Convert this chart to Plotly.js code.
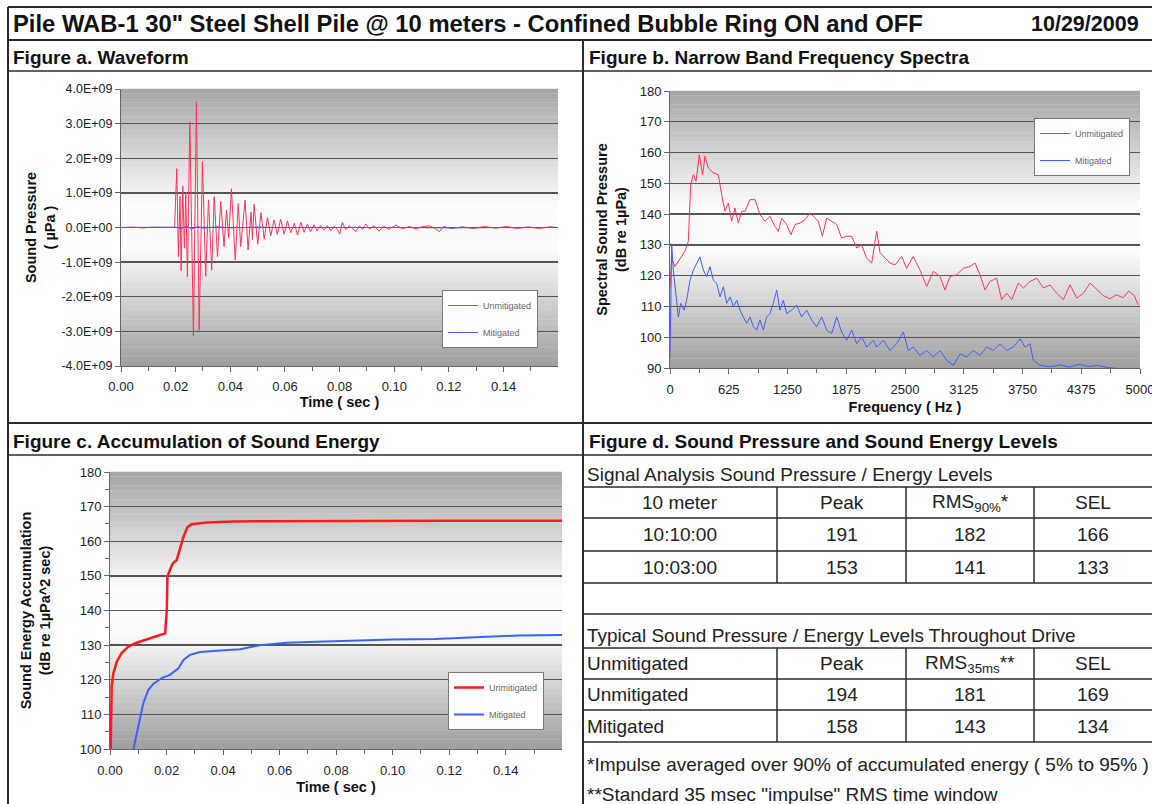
<!DOCTYPE html>
<html><head><meta charset="utf-8">
<script src="https://cdn.plot.ly/plotly-3.0.1.min.js"></script>
<style>html,body{margin:0;padding:0;background:#fff;}#chart{width:1152px;height:804px;}</style>
</head><body><div id="chart"></div>
<script>
// ---------- Figure a. Waveform ----------
const waveTime = [0,0.004,0.008,0.012,0.016,0.0196,0.0204,0.0210,0.0216,0.0220,0.0226,0.0232,0.0237,0.0243,0.0252,0.0265,0.0276,0.0286,0.0298,0.0310,0.0320,0.0332,0.0341,0.0353,0.0365,0.0377,0.0386,0.0394,0.0404,0.0418,0.0429,0.0438,0.0454,0.0465,0.0476,0.0481,0.0487,0.0500,0.0512,0.0524,0.0536,0.0548,0.0560,0.0572,0.0584,0.0597,0.0609,0.0621,0.0634,0.0646,0.0658,0.0670,0.0682,0.0694,0.0706,0.0718,0.0730,0.0742,0.0755,0.0768,0.0780,0.0792,0.0800,0.0810,0.0822,0.0835,0.0848,0.0860,0.0872,0.0885,0.0895,0.0910,0.0925,0.0945,0.0960,0.0980,0.1006,0.1030,0.1055,0.1080,0.1100,0.1130,0.1150,0.1165,0.1180,0.1210,0.1250,0.1290,0.1330,0.1370,0.1410,0.1450,0.1490,0.1530,0.1570,0.1600];
const waveUnmitigated = [0,1e7,-1e7,1e7,0,0,1.70e9,-0.84e9,0.90e9,-1.25e9,1.20e9,-0.60e9,1.00e9,-1.42e9,3.05e9,-3.14e9,3.63e9,-2.97e9,1.90e9,-1.41e9,0.79e9,-1.23e9,0.89e9,-0.84e9,0.75e9,-0.55e9,0.50e9,-0.30e9,1.12e9,-0.94e9,0.69e9,-0.55e9,0.79e9,-0.65e9,0.45e9,-0.35e9,0.67e9,-0.48e9,0.43e9,-0.34e9,0.29e9,-0.24e9,0.22e9,-0.20e9,0.24e9,-0.19e9,0.19e9,-0.15e9,0.12e9,-0.22e9,0.15e9,-0.14e9,0.10e9,-0.12e9,0.08e9,-0.10e9,0.06e9,-0.08e9,0.05e9,-0.09e9,0.04e9,-0.05e9,-0.19e9,0.15e9,-0.06e9,0.05e9,-0.04e9,-0.12e9,0.05e9,-0.05e9,0.10e9,-0.04e9,0.05e9,-0.10e9,0.04e9,-0.05e9,0.07e9,-0.04e9,0.03e9,-0.04e9,0.02e9,0.05e9,-0.03e9,-0.12e9,0.03e9,-0.03e9,0.02e9,-0.03e9,0.03e9,-0.02e9,0.03e9,-0.03e9,0.02e9,-0.03e9,0.02e9,0];
const waveTimeMit = [0,0.010,0.020,0.022,0.024,0.026,0.028,0.030,0.035,0.040,0.050,0.060,0.080,0.100,0.120,0.140,0.160];
const waveMitigated = [0,0,1e7,-3e7,4e7,-4e7,3e7,-2e7,2e7,-1e7,1e7,0,1e7,0,-1e7,0,0];
const waveTickVals = [-4e9,-3e9,-2e9,-1e9,0,1e9,2e9,3e9,4e9];
const waveTickText = ["-4.0E+09","-3.0E+09","-2.0E+09","-1.0E+09","0.0E+00","1.0E+09","2.0E+09","3.0E+09","4.0E+09"];

// ---------- Figure b. Narrow band spectra ----------
const freqUnmit = [0,18,53,106,160,195,220,248,277,312,347,372,408,461,514,550,585,621,656,691,727,762,798,851,904,957,1010,1064,1117,1152,1188,1241,1287,1330,1383,1436,1490,1525,1578,1621,1667,1720,1773,1826,1879,1933,1986,2039,2092,2146,2199,2234,2287,2340,2394,2464,2517,2588,2659,2731,2802,2873,2925,2979,3050,3121,3192,3245,3298,3351,3404,3475,3528,3582,3635,3706,3759,3830,3901,3972,4043,4114,4185,4256,4327,4398,4469,4540,4610,4680,4750,4820,4880,4940,4980];
const specUnmit = [116,125.7,123,125.7,128,131.2,149.6,152.8,150.7,159.3,152.8,158.8,155,153.4,152.8,146.3,140.9,143.6,137.7,142,137.1,140.9,140.9,144.7,144.7,139.8,137.7,139.3,136,134.4,138.7,136.6,133.3,136.6,137.1,138.2,140.4,139.3,137.7,132.8,138.7,137.7,136.6,132.2,132.8,132.8,129,130,125.7,124.1,134.5,127.5,125.8,124.1,123.5,126.2,122.4,126.2,121.9,116.5,121.4,119.7,115.4,119.7,120.3,122.4,123,124.1,120.3,115.4,118.1,119.2,112.2,114.3,112.2,117.6,116,118.1,119.2,116,117,114.3,112.2,117,112.7,114.3,117.6,115.5,113.5,112.5,113.8,112.8,115,113.5,110.5];
const freqMit = [0,18,35,64,89,114,149,177,213,248,284,319,355,390,426,461,497,532,568,603,639,674,710,745,780,816,851,887,922,957,993,1028,1064,1099,1135,1170,1206,1241,1294,1347,1400,1454,1507,1560,1614,1667,1720,1773,1826,1879,1933,1986,2039,2092,2163,2199,2270,2340,2411,2482,2535,2588,2659,2731,2802,2873,2944,3015,3086,3157,3227,3298,3369,3440,3511,3582,3653,3724,3777,3830,3865,3937,4043,4150,4250,4350,4450,4550,4650,4750,4850,4950,5000];
const specMit = [93.2,130.4,121.8,113.1,106.6,111,108.8,112,118.5,121.8,124,126.1,121.8,119.7,122.9,118.5,117.5,113.1,116.4,111,113.1,109.9,112,108.8,106.6,104.5,106.6,103.4,102.3,105.6,102.3,106.6,107.7,111,115.3,108.8,112,107.7,108.8,110.4,106.6,108.8,105.6,103.4,106.6,102.3,101.2,106.6,101.7,99,102.3,97.9,100.1,96.8,99,96.8,99,95.7,97.9,101.7,95.7,96.8,94.1,95.7,93.6,95.7,92.5,90.9,94.6,93.6,95.7,94.1,96.8,95.7,97.9,95.7,96.8,99.5,96.8,97.9,92.5,90.9,90.4,91,90.3,91.2,90.5,90.8,90.2,89.8,89.5,89.6,89.2];

// ---------- Figure c. Accumulation of sound energy ----------
const accTimeUnmit = [0.0002,0.0003,0.00035,0.0006,0.0012,0.0024,0.0041,0.0065,0.0094,0.013,0.0165,0.0195,0.0201,0.0203,0.0212,0.0222,0.0236,0.0248,0.026,0.0274,0.0289,0.0342,0.0437,0.0555,0.08,0.10,0.12,0.14,0.16];
const accUnmit = [98,105,110.4,118,121.9,125.2,127.7,129.6,130.7,131.7,132.6,133.4,140.1,149.7,151.7,153.6,154.6,157.9,161.3,164.1,164.9,165.4,165.7,165.8,165.9,165.9,165.9,165.9,165.9];
const accTimeMit = [0.0079,0.0083,0.01,0.0118,0.0136,0.0153,0.0183,0.0212,0.0242,0.026,0.0283,0.0319,0.0378,0.046,0.0531,0.0625,0.0732,0.085,0.10,0.115,0.125,0.135,0.145,0.16];
const accMit = [98,100,106.5,113.3,117.1,118.8,120.5,121.4,123.3,125.7,127.2,128,128.4,128.8,130,130.7,131,131.3,131.6,131.8,132.2,132.6,132.8,132.9];

// ---------- Figure d. Table ----------
const tableSignalTitle = "Signal Analysis Sound Pressure / Energy Levels";
const tableSignalHeader = ["10 meter","Peak","RMS<sub>90%</sub>*","SEL"];
const tableSignalRows = ["10:10:00","10:03:00"];
const tableSignalPeak = [191,153];
const tableSignalRms = [182,141];
const tableSignalSel = [166,133];
const tableTypicalTitle = "Typical Sound Pressure / Energy Levels Throughout Drive";
const tableTypicalHeader = ["Unmitigated","Peak","RMS<sub>35ms</sub>**","SEL"];
const tableTypicalRows = ["Unmitigated","Mitigated"];
const tableTypicalPeak = [194,158];
const tableTypicalRms = [181,143];
const tableTypicalSel = [169,134];
const footnotes = ["*Impulse averaged over 90% of accumulated energy ( 5% to 95% )","**Standard 35 msec \"impulse\" RMS time window"];

const mainTitle = "Pile WAB-1 30\" Steel Shell Pile @ 10 meters - Confined Bubble Ring ON and OFF";
const mainDate = "10/29/2009";
const panelTitles = ["Figure a. Waveform","Figure b. Narrow Band Frequency Spectra","Figure c. Accumulation of Sound Energy","Figure d. Sound Pressure and Sound Energy Levels"];
const seriesNames = ["Unmitigated","Mitigated"];

// ---------- layout helpers ----------
const W = 1152, H = 804;
const px = x => x / W;
const py = y => 1 - y / H;
const FONT = 'Arial, "Liberation Sans", sans-serif';

const RED = '#ff3358', BLUE = '#3f5cff';
const traces = [
  {x: waveTime, y: waveUnmitigated, type:'scatter', mode:'lines', name: seriesNames[0], line:{color:RED, width:1}, xaxis:'x', yaxis:'y', legend:'legend', legendgroup:'a1'},
  {x: waveTimeMit, y: waveMitigated, type:'scatter', mode:'lines', name: seriesNames[1], line:{color:BLUE, width:1}, xaxis:'x', yaxis:'y', legend:'legend', legendgroup:'a2'},
  {x: freqUnmit, y: specUnmit, type:'scatter', mode:'lines', name: seriesNames[0], line:{color:RED, width:1}, xaxis:'x2', yaxis:'y2', legend:'legend2', legendgroup:'b1'},
  {x: freqMit, y: specMit, type:'scatter', mode:'lines', name: seriesNames[1], line:{color:BLUE, width:1}, xaxis:'x2', yaxis:'y2', legend:'legend2', legendgroup:'b2'},
  {x: accTimeUnmit, y: accUnmit, type:'scatter', mode:'lines', name: seriesNames[0], line:{color:'#ff1a1a', width:2.5}, xaxis:'x3', yaxis:'y3', legend:'legend3', legendgroup:'c1'},
  {x: accTimeMit, y: accMit, type:'scatter', mode:'lines', name: seriesNames[1], line:{color:'#3a62ff', width:2}, xaxis:'x3', yaxis:'y3', legend:'legend3', legendgroup:'c2'}
];

const tickFont = {family: FONT, size: 13, color: '#222'};
const titleFont = {family: FONT, size: 14.5, color: '#111', weight: 'bold'};
const axisCommon = {showline:true, linecolor:'#666', linewidth:1, ticks:'outside', ticklen:5, tickcolor:'#666', tickfont: tickFont, automargin:false, fixedrange:true, ticklabeloverflow:'allow'};
const gridCommon = {showgrid:true, gridcolor:'#555', gridwidth:1.3, zeroline:false};

const legendCommon = {bgcolor:'#ffffff', bordercolor:'#777', borderwidth:1, font:{family:FONT, size:9, color:'#666'}, xanchor:'left', yanchor:'top', tracegroupgap:8, itemwidth:30, traceorder:'grouped'};

const layout = {
  width: W, height: H, autosize:false,
  margin:{l:0,r:0,t:0,b:0,pad:0},
  paper_bgcolor:'#ffffff', plot_bgcolor:'rgba(0,0,0,0)',
  font:{family:FONT},
  showlegend:true,
  xaxis: Object.assign({}, axisCommon, {domain:[px(121),px(558)], range:[0,0.1599], dtick:0.02, tickformat:'.2f', anchor:'y', showgrid:false, zeroline:false, ticklabelstandoff:3,
    minor:{dtick:0.01, ticks:'outside', ticklen:4, tickcolor:'#666'},
    title:{text:'Time ( sec )', font:titleFont, standoff:4}}),
  yaxis: Object.assign({}, axisCommon, gridCommon, {domain:[py(366),py(89)], range:[-4e9,4e9], tickvals:waveTickVals, ticktext:waveTickText, anchor:'x',
    tickfont:{family:FONT, size:12.5, color:'#222'},
    title:{text:'Sound Pressure<br>( µPa )', font:titleFont, standoff:2}}),
  xaxis2: Object.assign({}, axisCommon, {domain:[px(670),px(1140)], range:[0,5000], tick0:0, dtick:625, anchor:'y2', showgrid:false, zeroline:false, ticklabelstandoff:4,
    minor:{dtick:312.5, ticks:'outside', ticklen:4, tickcolor:'#666'},
    title:{text:'Frequency ( Hz )', font:titleFont, standoff:6}}),
  yaxis2: Object.assign({}, axisCommon, gridCommon, {domain:[py(368),py(91)], range:[90,180], dtick:10, anchor:'x2',
    title:{text:'Spectral Sound Pressure<br>(dB re 1µPa)', font:titleFont, standoff:9}}),
  xaxis3: Object.assign({}, axisCommon, {domain:[px(110),px(562)], range:[0,0.1599], dtick:0.02, tickformat:'.2f', anchor:'y3', showgrid:false, zeroline:false, ticklabelstandoff:4,
    minor:{dtick:0.01, ticks:'outside', ticklen:4, tickcolor:'#666'},
    title:{text:'Time ( sec )', font:titleFont, standoff:5}}),
  yaxis3: Object.assign({}, axisCommon, gridCommon, {domain:[py(749),py(472)], range:[100,180], dtick:10, anchor:'x3',
    minor:{dtick:5, ticks:'outside', ticklen:4, tickcolor:'#666', showgrid:false},
    title:{text:'Sound Energy Accumulation<br>(dB re 1µPa^2 sec)', font:titleFont, standoff:25}}),
  legend: Object.assign({}, legendCommon, {x:px(442), y:py(290)}),
  legend2: Object.assign({}, legendCommon, {x:px(1034), y:py(118)}),
  legend3: Object.assign({}, legendCommon, {x:px(448), y:py(672)}),
  shapes: [], annotations: []
};

// gradient plot-area backgrounds (Excel-style centre gradient)
function grayAt(f){
  const edgeTop = 165, edgeBot = 158, mid = 252;
  let g;
  if (f < 0.42) g = edgeTop + (mid - edgeTop) * (f / 0.42);
  else if (f <= 0.58) g = mid;
  else g = mid - (mid - edgeBot) * ((f - 0.58) / 0.42);
  g = Math.round(g);
  return `rgb(${g},${g},${g})`;
}
['', '2', '3'].forEach(s => {
  const N = 60;
  for (let i = 0; i < N; i++) {
    layout.shapes.push({type:'rect', xref:'x'+s+' domain', yref:'y'+s+' domain', x0:0, x1:1,
      y0: 1 - (i+1)/N, y1: 1 - i/N + 0.001, line:{width:0}, fillcolor: grayAt((i+0.5)/N), layer:'below'});
  }
});

// frame lines
function hline(y, x0, x1, w){ layout.shapes.push({type:'line', xref:'paper', yref:'paper', x0:px(x0), x1:px(x1), y0:py(y), y1:py(y), line:{color:'#2a2a2a', width:w||1.5}}); }
function vline(x, y0, y1, w){ layout.shapes.push({type:'line', xref:'paper', yref:'paper', x0:px(x), x1:px(x), y0:py(y0), y1:py(y1), line:{color:'#2a2a2a', width:w||1.5}}); }
hline(7, 8, 1152, 2);
hline(40, 8, 1152, 2);
hline(71, 8, 1152, 1.5);
hline(423, 8, 1152, 2);
hline(455, 8, 1152, 1.5);
vline(8, 7, 804, 2);
vline(583, 40, 804, 2);

// table lines
const colEdges = [583, 777, 906, 1034, 1152];
const sigRowEdges = [487, 518, 551, 583];
const typRowEdges = [648, 679, 710, 742];
sigRowEdges.forEach(y => hline(y, 583, 1152, 1.5));
hline(614, 583, 1152, 1.5);
typRowEdges.forEach(y => hline(y, 583, 1152, 1.5));
[1,2,3].forEach(i => { vline(colEdges[i], sigRowEdges[0], sigRowEdges[3], 1.5); vline(colEdges[i], typRowEdges[0], typRowEdges[3], 1.5); });

// text annotations
function ann(text, x, y, xanchor, size, bold, color){
  layout.annotations.push({text:text, x:px(x), y:py(y), xref:'paper', yref:'paper', xanchor:xanchor, yanchor:'middle', showarrow:false,
    font:{family:FONT, size:size, color:color||'#111', weight: bold ? 'bold' : 'normal'}});
}
ann(mainTitle, 11, 24, 'left', 23.8, true);
ann(mainDate, 1141, 24, 'right', 21.5, true);
ann(panelTitles[0], 11, 58, 'left', 19, true);
ann(panelTitles[1], 587, 58, 'left', 19, true);
ann(panelTitles[2], 11, 441, 'left', 19, true);
ann(panelTitles[3], 587, 441, 'left', 19, true);

const TF = 19, TC = '#222';
const cellCenter = i => (colEdges[i] + colEdges[i+1]) / 2;
const rowMid = (edges, r) => (edges[r] + edges[r+1]) / 2;
ann(tableSignalTitle, 585, 474, 'left', TF, false, TC);
tableSignalHeader.forEach((t, i) => ann(t, cellCenter(i), rowMid(sigRowEdges, 0), 'center', TF, false, TC));
tableSignalRows.forEach((t, r) => {
  const y = rowMid(sigRowEdges, r+1);
  ann(t, cellCenter(0), y, 'center', TF, false, TC);
  ann(String(tableSignalPeak[r]), cellCenter(1), y, 'center', TF, false, TC);
  ann(String(tableSignalRms[r]), cellCenter(2), y, 'center', TF, false, TC);
  ann(String(tableSignalSel[r]), cellCenter(3), y, 'center', TF, false, TC);
});
ann(tableTypicalTitle, 585, 635, 'left', TF, false, TC);
tableTypicalHeader.forEach((t, i) => ann(t, i === 0 ? 585 : cellCenter(i), rowMid(typRowEdges, 0), i === 0 ? 'left' : 'center', TF, false, TC));
tableTypicalRows.forEach((t, r) => {
  const y = rowMid(typRowEdges, r+1);
  ann(t, 585, y, 'left', TF, false, TC);
  ann(String(tableTypicalPeak[r]), cellCenter(1), y, 'center', TF, false, TC);
  ann(String(tableTypicalRms[r]), cellCenter(2), y, 'center', TF, false, TC);
  ann(String(tableTypicalSel[r]), cellCenter(3), y, 'center', TF, false, TC);
});
ann(footnotes[0], 585, 764, 'left', TF, false, TC);
ann(footnotes[1], 585, 794, 'left', TF, false, TC);

Plotly.newPlot('chart', traces, layout, {staticPlot:true, displayModeBar:false});
</script>
</body></html>
